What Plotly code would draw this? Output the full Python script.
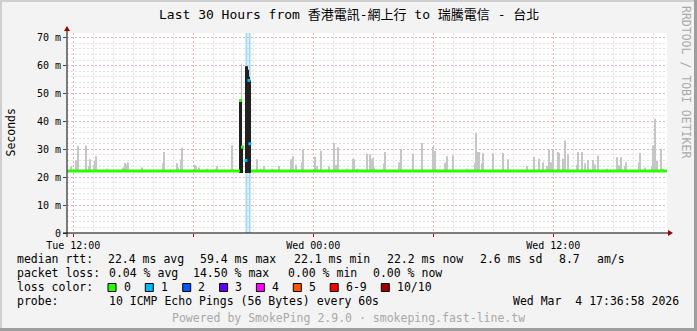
import plotly.graph_objects as go

# ---------------- data ----------------
TITLE = "Last 30 Hours from 香港電訊-網上行 to 瑞騰電信 - 台北"
Y_TITLE = "Seconds"
WATERMARK = "RRDTOOL / TOBI OETIKER"
FOOTER = "Powered by SmokePing 2.9.0 · smokeping.fast-line.tw"

# hours since Tue 00:00
X_START, X_END = 11.685, 41.685
Y_MAX = 71.7

x_tick_vals = [12, 18, 24, 30, 36]
x_tick_text = ["Tue 12:00", "", "Wed 00:00", "", "Wed 12:00"]
y_tick_vals = [0, 10, 20, 30, 40, 50, 60, 70]
y_tick_text = ["0", "10 m", "20 m", "30 m", "40 m", "50 m", "60 m", "70 m"]

# median rtt (ms), loss 0/10
median_t = [11.70, 12.20, 12.70, 13.20, 13.70, 14.20, 14.70, 15.20, 15.70, 16.20,
            16.70, 17.20, 17.70, 18.20, 18.70, 19.20, 19.70, 20.20, 20.33, 20.34,
            20.88, 21.40, 21.90, 22.40, 22.90, 23.40, 23.90, 24.40, 24.90, 25.40,
            25.90, 26.40, 26.90, 27.40, 27.90, 28.40, 28.90, 29.40, 29.90, 30.40,
            30.90, 31.40, 31.90, 32.40, 32.90, 33.40, 33.90, 34.40, 34.90, 35.40,
            35.90, 36.40, 36.90, 37.40, 37.90, 38.40, 38.90, 39.40, 39.90, 40.40,
            40.90, 41.40, 41.70]
median_v = [22.2, 22.2, 22.1, 22.2, 22.2, 22.1, 22.2, 22.2, 22.2, 22.1,
            22.2, 22.2, 22.2, 22.2, 22.1, 22.2, 22.2, 22.2, 22.2, None,
            22.2, 22.2, 22.2, 22.1, 22.2, 22.2, 22.2, 22.2, 22.1, 22.2,
            22.2, 22.2, 22.2, 22.2, 22.1, 22.2, 22.2, 22.2, 22.2, 22.2,
            22.1, 22.2, 22.2, 22.2, 22.2, 22.2, 22.1, 22.2, 22.2, 22.2,
            22.2, 22.2, 22.1, 22.2, 22.2, 22.2, 22.2, 22.2, 22.1, 22.2,
            22.2, 22.2, 22.2]

# smoke (max ping of the 10) spikes
SMOKE_MIN = 22.0
smoke_t = [11.885, 12.135, 12.25, 12.65, 12.80, 12.85, 13.02, 13.07, 13.12, 13.70,
           14.50, 14.60, 14.67, 14.75, 15.42, 16.50, 16.55, 17.17, 17.22, 17.385,
           17.45, 18.085, 18.15, 18.30, 18.70, 19.12, 19.20, 19.95, 20.41, 21.20,
           21.37, 21.55, 21.92, 22.285, 22.885, 22.97, 23.135, 23.42, 23.47, 24.085,
           24.17, 24.385, 24.77, 25.05, 25.12, 25.25, 25.67, 25.97, 26.05, 26.17,
           26.70, 26.835, 26.92, 27.00, 27.05, 27.55, 27.60, 28.30, 28.37, 29.00,
           29.42, 29.97, 30.00, 30.085, 30.585, 30.65, 30.70, 31.00, 31.67, 32.085,
           32.135, 32.20, 32.30, 32.42, 32.50, 33.00, 33.50, 33.75, 34.67, 35.035,
           35.27, 35.47, 35.67, 35.80, 35.885, 36.00, 36.25, 36.30, 36.47, 36.52,
           36.60, 36.75, 37.20, 37.25, 37.45, 37.585, 37.75, 37.97, 38.07, 38.25,
           38.70, 39.20, 39.30, 39.40, 39.57, 39.62, 40.30, 40.35, 40.585, 40.935,
           41.00, 41.10, 41.20, 41.40, 41.50]
smoke_top = [23.9, 26.0, 31.2, 31.4, 24.0, 26.4, 24.5, 26.0, 27.5, 23.0,
             23.5, 25.1, 24.5, 25.4, 23.5, 25.0, 29.0, 25.0, 23.5, 26.4,
             30.6, 24.5, 23.8, 23.5, 23.0, 23.0, 24.0, 31.4, 60.7, 26.4,
             23.0, 24.0, 23.0, 24.0, 26.4, 27.5, 24.5, 25.4, 29.9, 27.3,
             24.0, 29.5, 23.8, 32.3, 24.5, 30.8, 23.0, 26.6, 26.4, 23.0,
             28.4, 28.2, 26.4, 26.9, 23.5, 24.9, 29.0, 25.4, 30.1, 28.4,
             32.3, 24.0, 30.8, 29.4, 24.9, 25.4, 27.5, 27.9, 23.0, 25.0,
             35.8, 29.0, 29.0, 25.0, 28.7, 28.7, 28.7, 26.4, 24.0, 27.3,
             26.6, 25.4, 24.0, 29.9, 25.4, 30.1, 29.0, 28.7, 26.6, 25.4,
             33.2, 28.4, 24.5, 29.0, 29.0, 25.0, 26.2, 26.2, 24.6, 27.8,
             23.0, 27.2, 24.3, 27.2, 24.0, 25.4, 25.4, 28.7, 23.5, 24.0,
             31.4, 41.0, 25.8, 30.2, 23.0]

# dense smoke during the incident (~20:20 Tue)
EVENT_MIN = 21.5
event_t = [20.36, 20.41, 20.46, 20.63, 20.68, 20.73, 20.78, 20.83]
event_top = [47.5, 47.5, 31.0, 59.8, 59.8, 58.5, 56.0, 54.7]

# median samples with loss during the incident
ev_med_green_t = [20.36, 20.46]
ev_med_green_v = [47.5, 30.8]
ev_med_blue_t = [20.63, 20.78, 20.83]
ev_med_blue_v = [26.0, 54.7, 32.0]

# periods with packet loss (full-height marks)
loss_t = [20.66, 20.815]

# legend / statistics text
stats_rtt = ["median rtt:", "22.4 ms avg", "59.4 ms max", "22.1 ms min",
             "22.2 ms now", "2.6 ms sd", "8.7", "am/s"]
stats_loss = ["packet loss:", "0.04 % avg", "14.50 % max", "0.00 % min", "0.00 % now"]
loss_label = ["0", "1", "2", "3", "4", "5", "6-9", "10/10"]
loss_color = ["#26ff00", "#00b8ff", "#0059ff", "#5e00ff", "#ff00ff", "#ff5500",
              "#ff0000", "#a10000"]
probe_text = ["probe:", "10 ICMP Echo Pings (56 Bytes) every 60s"]
stamp = "Wed Mar  4 17:36:58 2026"

# ---------------- layout helpers ----------------
W, H = 697, 331
PL, PR, PT, PB = 67, 667, 33, 233
MONO = "DejaVu Sans Mono, Noto Sans CJK TC, monospace"


def px(x):
    return (x - PL) / (PR - PL)


def py(y):
    return (PB - y) / (PB - PT)


def ann(text, x, y, xanchor="left", size=11.5, color="#000000", angle=0):
    return dict(text=text.replace(" ", "\u00a0"), x=px(x), y=py(y), xref="paper",
                yref="paper", xanchor=xanchor, yanchor="middle", showarrow=False,
                textangle=angle, borderpad=0,
                font=dict(family=MONO, size=size, color=color))


fig = go.Figure()

# loss bands
fig.add_trace(go.Bar(x=loss_t, y=[Y_MAX] * len(loss_t), base=0, width=0.1,
                     marker=dict(color="#a6d8f2", line=dict(width=0)),
                     hoverinfo="skip"))
# smoke
fig.add_trace(go.Bar(x=smoke_t, y=[v - SMOKE_MIN for v in smoke_top], base=SMOKE_MIN,
                     width=0.045, marker=dict(color="#c6c6c6", line=dict(width=0)),
                     hoverinfo="skip"))
fig.add_trace(go.Bar(x=event_t, y=[v - EVENT_MIN for v in event_top], base=EVENT_MIN,
                     width=0.055, marker=dict(color="#202020", line=dict(width=0)),
                     hoverinfo="skip"))
# median
fig.add_trace(go.Scatter(x=median_t, y=median_v, mode="lines",
                         line=dict(color="#26ff00", width=3), connectgaps=False,
                         hoverinfo="skip"))
fig.add_trace(go.Scatter(x=ev_med_green_t, y=ev_med_green_v, mode="markers",
                         marker=dict(symbol="square", size=3, color="#26ff00"),
                         hoverinfo="skip"))
fig.add_trace(go.Scatter(x=ev_med_blue_t, y=ev_med_blue_v, mode="markers",
                         marker=dict(symbol="square", size=3, color="#00b8ff"),
                         hoverinfo="skip"))

shapes = []
# image border (shade)
shapes.append(dict(type="rect", xref="paper", yref="paper", x0=px(0), x1=px(2),
                   y0=py(H), y1=py(0), fillcolor="#cfcfcf", line=dict(width=0), layer="above"))
shapes.append(dict(type="rect", xref="paper", yref="paper", x0=px(0), x1=px(W),
                   y0=py(2), y1=py(0), fillcolor="#cfcfcf", line=dict(width=0), layer="above"))
shapes.append(dict(type="rect", xref="paper", yref="paper", x0=px(W - 3), x1=px(W),
                   y0=py(H), y1=py(0), fillcolor="#9e9e9e", line=dict(width=0), layer="above"))
shapes.append(dict(type="rect", xref="paper", yref="paper", x0=px(0), x1=px(W),
                   y0=py(H), y1=py(H - 3), fillcolor="#9e9e9e", line=dict(width=0), layer="above"))
# axes
shapes.append(dict(type="line", xref="paper", yref="paper", x0=px(63), x1=px(668),
                   y0=py(233), y1=py(233), line=dict(color="#000000", width=1), layer="above"))
shapes.append(dict(type="line", xref="paper", yref="paper", x0=px(67), x1=px(67),
                   y0=py(237), y1=py(30), line=dict(color="#000000", width=1), layer="above"))
shapes.append(dict(type="path", xref="paper", yref="paper",
                   path=f"M {px(668)} {py(230)} L {px(673)} {py(233)} L {px(668)} {py(236)} Z",
                   fillcolor="#a00000", line=dict(width=0), layer="above"))
shapes.append(dict(type="path", xref="paper", yref="paper",
                   path=f"M {px(64)} {py(31)} L {px(67)} {py(26)} L {px(70)} {py(31)} Z",
                   fillcolor="#a00000", line=dict(width=0), layer="above"))

annotations = []
annotations.append(ann(TITLE, 348.5, 15, xanchor="center", size=13))
annotations.append(ann(Y_TITLE, 10, 132.5, xanchor="center", size=11.5, angle=-90))
annotations.append(ann(WATERMARK, 686, 82, xanchor="center", size=11.5,
                       color="#aaaaaa", angle=90))

rtt_x = [16, 106.7, 199, 293.3, 385.8, 479, 557.8, 595.6]
for t, x in zip(stats_rtt, rtt_x):
    annotations.append(ann(t, x, 259.3))
loss_x = [16, 107.6, 192, 286.7, 372.4]
for t, x in zip(stats_loss, loss_x):
    annotations.append(ann(t, x, 273.3))
annotations.append(ann("loss color:", 16, 287.3))
box_x = [108, 145.3, 182.7, 219.6, 256.4, 293.3, 330.2, 381.3]
for lab, col, bx in zip(loss_label, loss_color, box_x):
    shapes.append(dict(type="rect", xref="paper", yref="paper", x0=px(bx), x1=px(bx + 8),
                       y0=py(291.5), y1=py(283.5), fillcolor=col,
                       line=dict(color="#000000", width=1), layer="above"))
    annotations.append(ann(lab, bx + 14.5, 287.3))
annotations.append(ann(probe_text[0], 16, 301))
annotations.append(ann(probe_text[1], 107.6, 301))
annotations.append(ann(stamp, 680, 301, xanchor="right"))
annotations.append(ann(FOOTER, 348.5, 318.3, xanchor="center", color="#a8a8a8"))

fig.update_layout(
    width=W, height=H,
    margin=dict(l=PL, r=W - PR, t=PT, b=H - PB, pad=0),
    paper_bgcolor="#f3f3f3", plot_bgcolor="#ffffff",
    showlegend=False, barmode="overlay",
    shapes=shapes, annotations=annotations,
    font=dict(family=MONO, size=10, color="#000000"),
    xaxis=dict(range=[X_START, X_END], tickvals=x_tick_vals, ticktext=x_tick_text,
               showgrid=True, gridcolor="rgba(220,130,130,0.45)", griddash="2px,2px",
               gridwidth=1, zeroline=False, showline=False,
               ticks="outside", ticklen=3, tickcolor="#cc0000",
               tickfont=dict(family=MONO, size=10, color="#000000"),
               minor=dict(dtick=1, tick0=0, showgrid=True,
                          gridcolor="rgba(200,200,200,0.55)", griddash="2px,2px",
                          ticks=""),
               fixedrange=True),
    yaxis=dict(range=[0, Y_MAX], tickvals=y_tick_vals, ticktext=y_tick_text,
               showgrid=True, gridcolor="rgba(220,130,130,0.45)", griddash="2px,2px",
               gridwidth=1, zeroline=False, showline=False,
               ticks="outside", ticklen=3, tickcolor="#444444",
               tickfont=dict(family=MONO, size=10, color="#000000"),
               minor=dict(dtick=2, tick0=0, showgrid=True,
                          gridcolor="rgba(200,200,200,0.55)", griddash="2px,2px",
                          ticks=""),
               fixedrange=True),
)

fig.write_html("out.html", config={"displayModeBar": False})
